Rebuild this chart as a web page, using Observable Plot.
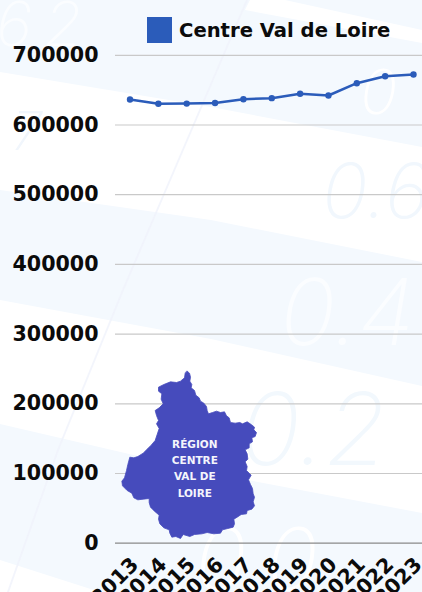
<!DOCTYPE html>
<html lang="fr">
<head>
<meta charset="utf-8">
<script src="https://cdn.jsdelivr.net/npm/d3@7"></script>
<script src="https://cdn.jsdelivr.net/npm/@observablehq/plot@0.6"></script>
<style>
  html,body{margin:0;padding:0;background:#f4f9fe;}
  #page{position:relative;width:422px;height:592px;overflow:hidden;font-family:"DejaVu Sans",sans-serif;}
  #page>*{position:absolute;left:0;top:0;}
  #legend{left:147px;top:17px;display:flex;align-items:center;gap:7px;font-weight:700;font-size:19.6px;color:#0b0b0b;white-space:nowrap;}
  #legend i{display:block;width:25px;height:26px;background:#2b5cba;}
  #map{left:90px;top:360px;}
</style>
</head>
<body>
<div id="page">
  <svg width="422" height="592" aria-hidden="true" style="font-family:Inter,sans-serif;font-style:italic;font-weight:200">
    <polygon fill="#fff" points="0,72 211,107 422,147 422,262 211,220 0,190"/>
    <polygon fill="#fff" points="0,300 211,339 422,386 422,513 211,473 0,424"/>
    <polygon fill="#fff" points="0,560 100,592 0,592"/>
    <polygon fill="#fff" points="285,0 422,30 422,43 245,10 250,0"/>
    <polygon fill="#f0f3fb" opacity=".8" points="246,0 248,0 124,290 59,450 9,592 7,592 57,450 122,290"/>
    <text x="280" y="345" font-size="92" fill="#fbfdff">0.4</text>
    <text x="240" y="465" font-size="100" fill="#f2f8fd">0.2</text>
    <text x="322" y="218" font-size="76" fill="#f1f7fd">0.6</text>
    <text x="360" y="114" font-size="62" fill="#fff">0</text>
    <text x="-4" y="46" font-size="62" fill="#fbfdff" letter-spacing="12">62</text>
    <text x="12" y="150" font-size="54" fill="#f1f6fc">7</text>
    <text x="195" y="590" font-size="86" fill="#fff">0.0</text>
  </svg>
  <div id="chart"></div>
  <div id="map"></div>
  <div id="legend"><i></i><span>Centre Val de Loire</span></div>
</div>
<script>
const years = ["2013","2014","2015","2016","2017","2018","2019","2020","2021","2022","2023"];
const values = [636600,630400,630700,631600,637000,638500,644800,642300,660000,670000,672400];
const yTicks = [0,100000,200000,300000,400000,500000,600000,700000];
const mapOutline = [[290,32],[297,38],[300,50],[298,62],[304,72],[302,82],[312,90],[316,104],[326,112],[330,122],[340,128],[348,138],[350,150],[354,160],[366,156],[378,152],[390,156],[402,154],[408,166],[416,172],[420,186],[434,188],[448,186],[456,190],[470,184],[482,192],[492,200],[490,208],[498,216],[494,228],[484,232],[486,244],[476,250],[476,262],[464,268],[470,280],[472,296],[464,304],[470,318],[468,330],[476,338],[482,344],[474,358],[480,372],[486,384],[488,400],[492,410],[488,424],[492,436],[484,446],[470,450],[468,460],[452,462],[440,470],[430,476],[432,490],[428,500],[412,504],[396,508],[390,518],[370,520],[350,516],[334,520],[312,522],[298,528],[278,522],[270,534],[256,528],[244,530],[238,518],[236,508],[220,502],[208,490],[204,476],[206,464],[192,452],[180,440],[176,426],[176,414],[158,416],[142,418],[130,412],[124,398],[110,390],[96,376],[94,362],[102,352],[108,330],[112,312],[118,290],[130,292],[142,288],[158,278],[172,264],[182,254],[194,240],[200,222],[206,204],[198,190],[204,180],[198,165],[194,150],[206,142],[218,130],[212,116],[214,100],[204,92],[204,80],[220,72],[240,64],[258,66],[270,62],[282,52],[284,38],[290,32]];
const mapLabels = ["RÉGION","CENTRE","VAL DE","LOIRE"];
const mapLabelY = [252,300,348,398];

const rows = years.map((year,i)=>({year,value:values[i]}));
const labelFont = {fontFamily:"DejaVu Sans,sans-serif",fontWeight:700,fontSize:20.6,fill:"#0b0b0b"};

const chart = Plot.plot({
  width:422,height:592,
  marginLeft:115,marginRight:0,marginTop:54.8,marginBottom:49.3,
  insetLeft:14.5,insetRight:9,
  style:{background:"transparent",overflow:"hidden"},
  x:{type:"point",domain:years,padding:0,round:false},
  y:{domain:[0,700000]},
  marks:[
    Plot.ruleY(yTicks.filter(d=>d>0),{stroke:"#c9c9c9",strokeWidth:1.2,strokeOpacity:1}),
    Plot.ruleY([0],{stroke:"#8a8a8a",strokeWidth:1.2,strokeOpacity:1}),
    Plot.axisY({ticks:yTicks,tickFormat:"d",tickSize:0,tickPadding:17,label:null,...labelFont}),
    Plot.axisX({tickSize:0,tickPadding:18,dx:5,tickRotate:-45,label:null,...labelFont}),
    Plot.line(rows,{x:"year",y:"value",stroke:"#2b5cba",strokeWidth:2.5}),
    Plot.dot(rows,{x:"year",y:"value",fill:"#2b5cba",r:3.2})
  ]
});
document.getElementById("chart").append(chart);

const frame = {type:"Polygon",coordinates:[[[0,0],[570,0],[570,570],[0,570],[0,0]]]};
const map = Plot.plot({
  width:190,height:190,margin:0,
  style:{background:"transparent"},
  projection:{type:"identity",domain:frame,inset:0},
  marks:[
    Plot.geo([{type:"Polygon",coordinates:[mapOutline]}],{fill:"#464bbc",stroke:"#464bbc",strokeWidth:0.8}),
    Plot.text(mapLabels,{x:()=>313,y:(d,i)=>mapLabelY[i],text:d=>d,fill:"#f4f5fc",fontFamily:"DejaVu Sans,sans-serif",fontWeight:700,fontSize:10.5})
  ]
});
document.getElementById("map").append(map);
</script>
</body>
</html>
